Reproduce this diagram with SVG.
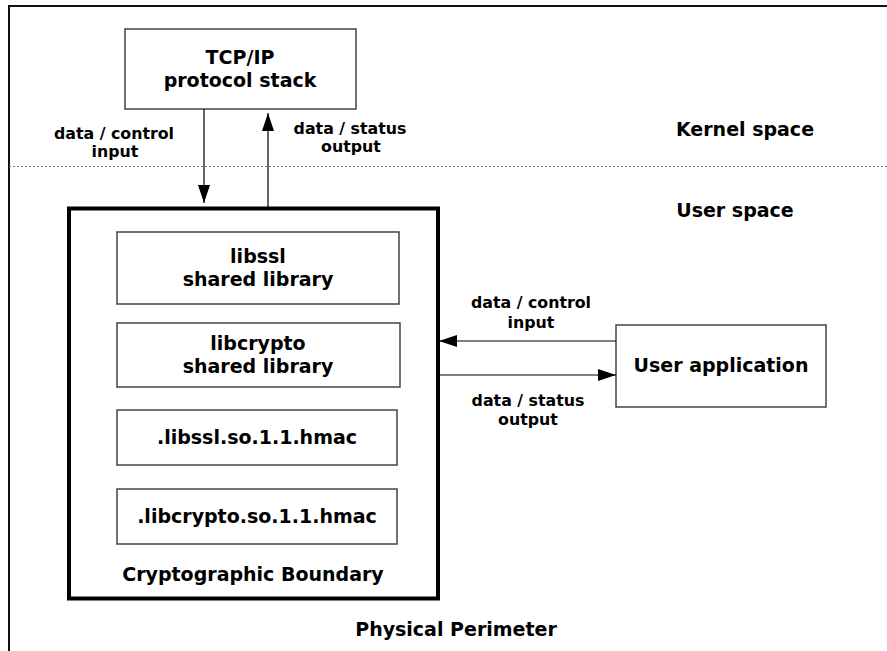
<svg xmlns="http://www.w3.org/2000/svg" width="887" height="651" viewBox="0 0 887 651">
<style>
text{font-family:"DejaVu Sans",Verdana,sans-serif;font-weight:bold;fill:#000;text-anchor:middle}
.big{font-size:19px}
.lbl{font-size:15.8px}
.box{fill:#fff;stroke:#444;stroke-width:1.5}
.conn{stroke:#000;stroke-width:1.2;fill:none}
</style>
<defs>
<marker id="ah" viewBox="0 0 18 12" refX="18" refY="6" markerWidth="18" markerHeight="12" markerUnits="userSpaceOnUse" orient="auto">
<path d="M0,0 L18,6 L0,12 Z" fill="#000"/>
</marker>
</defs>
<rect width="887" height="651" fill="#fff"/>
<path d="M9,651 V6 H887" fill="none" stroke="#111" stroke-width="2"/>
<line x1="9" y1="166.5" x2="887" y2="166.5" stroke="#777" stroke-width="1" stroke-dasharray="2,2"/>
<text class="big" x="745" y="136" >Kernel space</text>
<text class="big" x="735" y="217">User space</text>
<text class="big" x="456" y="636">Physical Perimeter</text>

<g id="tcpip">
<rect class="box" x="125" y="29" width="231" height="80"/>
<text class="big" x="240" y="64">TCP/IP</text>
<text class="big" x="240" y="87">protocol stack</text>
</g>

<g id="boundary">
<rect x="69" y="208.5" width="369" height="390" fill="none" stroke="#000" stroke-width="4"/>
<text class="big" x="253" y="581">Cryptographic Boundary</text>
</g>
<g id="libssl">
<rect class="box" x="117" y="232" width="282" height="72"/>
<text class="big" x="258" y="263">libssl</text>
<text class="big" x="258" y="286">shared library</text>
</g>
<g id="libcrypto">
<rect class="box" x="117" y="323" width="283" height="64"/>
<text class="big" x="258" y="350">libcrypto</text>
<text class="big" x="258" y="373">shared library</text>
</g>
<g id="libssl-hmac">
<rect class="box" x="117" y="410" width="280" height="55"/>
<text class="big" x="257" y="444">.libssl.so.1.1.hmac</text>
</g>
<g id="libcrypto-hmac">
<rect class="box" x="117" y="489" width="280" height="55"/>
<text class="big" x="257" y="523">.libcrypto.so.1.1.hmac</text>
</g>
<g id="userapp">
<rect class="box" x="616" y="325" width="210" height="82"/>
<text class="big" x="721" y="372">User application</text>
</g>

<g id="connectors">
<line class="conn" x1="204" y1="109" x2="204" y2="203" marker-end="url(#ah)"/>
<line class="conn" x1="268" y1="207" x2="268" y2="113" marker-end="url(#ah)"/>
<line class="conn" x1="616" y1="341" x2="439" y2="341" marker-end="url(#ah)"/>
<line class="conn" x1="440" y1="375" x2="616" y2="375" marker-end="url(#ah)"/>
<text class="lbl" x="114" y="139">data / control</text>
<text class="lbl" x="115" y="157">input</text>
<text class="lbl" x="350" y="134">data / status</text>
<text class="lbl" x="351" y="152">output</text>
<text class="lbl" x="531" y="308">data / control</text>
<text class="lbl" x="531" y="328">input</text>
<text class="lbl" x="528" y="406">data / status</text>
<text class="lbl" x="528" y="425">output</text>
</g>
</svg>
